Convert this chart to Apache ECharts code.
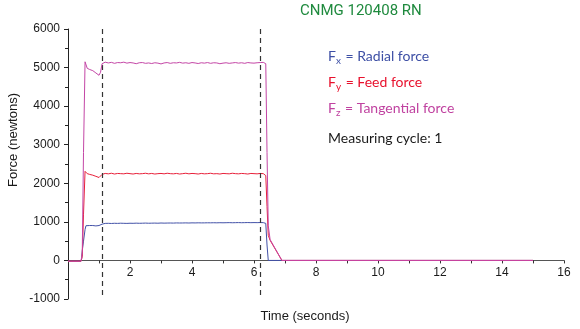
<!DOCTYPE html>
<html>
<head>
<meta charset="utf-8">
<script src="https://cdn.jsdelivr.net/npm/echarts@6/dist/echarts.min.js"></script>
<style>
html,body{margin:0;padding:0;background:#fff;}
#chart{width:580px;height:329px;}
</style>
</head>
<body>
<div id="chart"></div>
<script>
// Time (seconds)
var time = [
  0, 0.42, 0.44, 0.46, 0.50, 0.55, 0.58, 0.62, 0.70, 0.75,
  0.80, 0.85, 0.90, 0.95, 1.00, 1.05, 1.10, 1.15,
  1.2, 1.3, 1.4, 1.5, 1.6, 1.7, 1.8, 1.9, 2.0, 2.1,
  2.2, 2.3, 2.4, 2.5, 2.6, 2.7, 2.8, 2.9, 3.0, 3.1,
  3.2, 3.3, 3.4, 3.5, 3.6, 3.7, 3.8, 3.9, 4.0, 4.1,
  4.2, 4.3, 4.4, 4.5, 4.6, 4.7, 4.8, 4.9, 5.0, 5.1,
  5.2, 5.3, 5.4, 5.5, 5.6, 5.7, 5.8, 5.9, 6.0, 6.1,
  6.2, 6.3,
  6.35, 6.38, 6.42, 6.46, 6.52, 6.90, 15.0
];
// Fx = Radial force (N)
var fx = [
  -20, -20, 50, 250, 500, 800, 900, 910, 905, 900,
  905, 900, 895, 900, 905, 915, 940, 965,
  960, 962, 958, 963, 960, 965, 962, 960, 964, 962,
  966, 963, 965, 968, 964, 966, 968, 965, 970, 967,
  969, 970, 968, 972, 970, 971, 973, 970, 974, 972,
  975, 973, 974, 976, 975, 977, 975, 978, 976, 978,
  980, 977, 979, 981, 978, 980, 982, 979, 981, 980,
  982, 980,
  975, 960, 400, 0, 0, 0, 0
];
// Fy = Feed force (N)
var fy = [
  -20, -20, -20, 100, 1200, 2310, 2280, 2250, 2230, 2220,
  2210, 2200, 2180, 2160, 2150, 2180, 2230, 2260,
  2255, 2245, 2260, 2240, 2255, 2250, 2245, 2260, 2250, 2240,
  2255, 2245, 2250, 2260, 2245, 2255, 2240, 2250, 2255, 2245,
  2260, 2250, 2245, 2255, 2240, 2250, 2260, 2245, 2255, 2250,
  2240, 2255, 2245, 2250, 2260, 2245, 2250, 2240, 2255, 2250,
  2245, 2260, 2250, 2245, 2255, 2250, 2240, 2255, 2250, 2245,
  2255, 2250,
  2240, 2200, 1400, 650, 520, 0, 0
];
// Fz = Tangential force (N)
var fz = [
  -20, -20, -20, 200, 2800, 5150, 5100, 4980, 4950, 4940,
  4920, 4890, 4860, 4810, 4800, 4880, 5100, 5150,
  5140, 5120, 5135, 5110, 5130, 5125, 5140, 5115, 5130, 5120,
  5100, 5125, 5130, 5110, 5120, 5105, 5125, 5115, 5095, 5120,
  5130, 5110, 5125, 5120, 5135, 5115, 5125, 5110, 5130, 5120,
  5105, 5125, 5115, 5130, 5110, 5125, 5120, 5100, 5115, 5125,
  5110, 5120, 5130, 5115, 5125, 5110, 5130, 5120, 5115, 5125,
  5130, 5135,
  5120, 5100, 2800, 900, 540, 0, 0
];
// Measuring cycle boundaries (seconds)
var cycleMarks = [1.12, 6.21];
var xTicks = [0, 2, 4, 6, 8, 10, 12, 14, 16];
var yTicks = [-1000, 0, 1000, 2000, 3000, 4000, 5000, 6000];

function pairs(vals) {
  return time.map(function (t, i) { return [t, vals[i]]; });
}

var BLUE = '#4352a8', RED = '#e8203a', MAG = '#c446a6';
var GRID_TOP = 29, GRID_BOTTOM = 30, H = 329;
var plotH = H - GRID_TOP - GRID_BOTTOM;
var yMin = yTicks[0], yMax = yTicks[yTicks.length - 1];
// shift the x axis up so it sits on the zero line
var zeroOffset = -plotH * (0 - yMin) / (yMax - yMin);

var chart = echarts.init(document.getElementById('chart'), null, {renderer: 'canvas'});
var lineBase = {type: 'line', showSymbol: false, symbol: 'none', animation: false};

var option = {
  backgroundColor: '#fff',
  animation: false,
  grid: {left: 68, right: 16, top: GRID_TOP, bottom: GRID_BOTTOM, containLabel: false},
  xAxis: {
    type: 'value', min: xTicks[0], max: xTicks[xTicks.length - 1], interval: 2,
    offset: zeroOffset,
    axisLine: {onZero: false, lineStyle: {color: '#555', width: 1}},
    axisTick: {show: true, length: 3, lineStyle: {color: '#333'}},
    minorTick: {show: true, splitNumber: 2, length: 3, lineStyle: {color: '#333'}},
    splitLine: {show: false},
    axisLabel: {
      color: '#1a1a1a', fontFamily: 'Liberation Sans, Arial, sans-serif', fontSize: 12, margin: 6,
      formatter: function (v) { return v === 0 ? '' : String(v); }
    }
  },
  yAxis: {
    type: 'value', min: yMin, max: yMax, interval: 1000,
    axisLine: {show: true, onZero: false, lineStyle: {color: '#222', width: 1}},
    axisTick: {show: true, length: 4, lineStyle: {color: '#222'}},
    minorTick: {show: true, splitNumber: 2, length: 3, lineStyle: {color: '#222'}},
    splitLine: {show: false},
    axisLabel: {
      color: '#1a1a1a', fontFamily: 'Liberation Sans, Arial, sans-serif', fontSize: 12, margin: 8,
      formatter: function (v) { return String(v); }
    }
  },
  series: [
    Object.assign({}, lineBase, {
      name: 'Fx', data: pairs(fx), z: 3,
      lineStyle: {color: BLUE, width: 1}, itemStyle: {color: BLUE}
    }),
    Object.assign({}, lineBase, {
      name: 'Fy', data: pairs(fy), z: 4,
      lineStyle: {color: RED, width: 1}, itemStyle: {color: RED}
    }),
    Object.assign({}, lineBase, {
      name: 'Fz', data: pairs(fz), z: 5,
      lineStyle: {color: MAG, width: 1}, itemStyle: {color: MAG},
      markLine: {
        silent: true, symbol: 'none', label: {show: false}, animation: false,
        lineStyle: {color: '#333', type: [5, 4], width: 1.2},
        data: cycleMarks.map(function (t) {
          return [{coord: [t, 6000]}, {coord: [t, -960]}];
        })
      }
    })
  ],
  graphic: [
    {
      type: 'text', left: 300, top: 4,
      style: {text: 'CNMG 120408 RN', fill: '#1f8a3e', font: '15px Roboto, "Noto Sans", sans-serif'}
    },
    {
      type: 'text', left: 328, top: 46,
      style: {
        text: '{m|F}{s|x}{m| = Radial force}',
        rich: {
          m: {fill: '#3d4fa5', fontSize: 14, fontFamily: 'Lato, "Noto Sans", sans-serif', lineHeight: 20},
          s: {fill: '#3d4fa5', fontSize: 10, fontFamily: 'Lato, "Noto Sans", sans-serif', lineHeight: 20, padding: [10, 1, 0, 0]}
        }
      }
    },
    {
      type: 'text', left: 328, top: 72,
      style: {
        text: '{m|F}{s|y}{m| = Feed force}',
        rich: {
          m: {fill: '#e8112d', fontSize: 14, fontFamily: 'Lato, "Noto Sans", sans-serif', lineHeight: 20},
          s: {fill: '#e8112d', fontSize: 10, fontFamily: 'Lato, "Noto Sans", sans-serif', lineHeight: 20, padding: [10, 1, 0, 0]}
        }
      }
    },
    {
      type: 'text', left: 328, top: 98,
      style: {
        text: '{m|F}{s|z}{m| = Tangential force}',
        rich: {
          m: {fill: '#c042a0', fontSize: 14, fontFamily: 'Lato, "Noto Sans", sans-serif', lineHeight: 20},
          s: {fill: '#c042a0', fontSize: 10, fontFamily: 'Lato, "Noto Sans", sans-serif', lineHeight: 20, padding: [10, 1, 0, 0]}
        }
      }
    },
    {
      type: 'text', left: 328, top: 131,
      style: {text: 'Measuring cycle: 1', fill: '#1a1a1a', font: '14px Lato, "Noto Sans", sans-serif'}
    },
    {
      type: 'text', x: 13, y: 140, rotation: Math.PI / 2,
      style: {text: 'Force (newtons)', fill: '#1a1a1a', font: '13px "Liberation Sans", Arial, sans-serif', align: 'center', verticalAlign: 'middle'}
    },
    {
      type: 'text', x: 305, y: 316,
      style: {text: 'Time (seconds)', fill: '#1a1a1a', font: '13px "Liberation Sans", Arial, sans-serif', align: 'center', verticalAlign: 'middle'}
    }
  ]
};
chart.setOption(option);
</script>
</body>
</html>
